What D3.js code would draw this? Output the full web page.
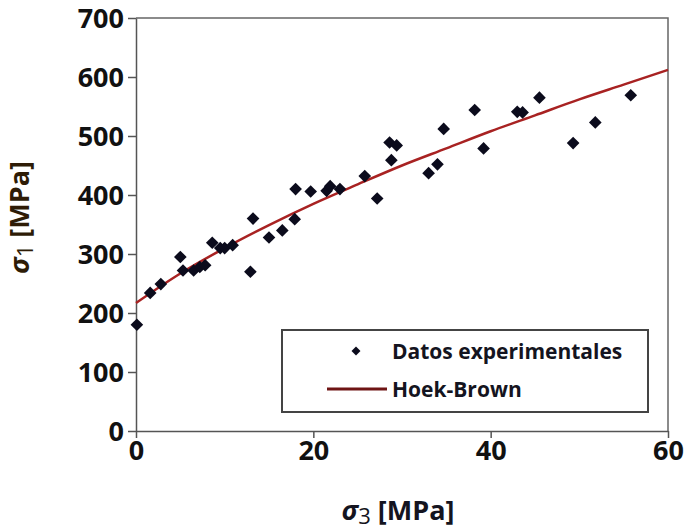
<!DOCTYPE html>
<html>
<head>
<meta charset="utf-8">
<script src="https://cdn.jsdelivr.net/npm/d3@7"></script>
<style>
    body { margin: 0; background: #fff; }
    text { font-family: "Open Sans", Lato, sans-serif; font-weight: bold; }
</style>
</head>
<body>
<div id="chart"></div>
<script>
// experimental points (sigma3, sigma1) in MPa
var sigma3 = [0.1, 1.6, 2.8, 5.0, 5.3, 6.5, 7.2, 7.8, 8.6, 9.5, 10.0, 10.9, 12.9,
    13.2, 15.0, 16.5, 17.9, 18.0, 19.7, 21.5, 21.9, 23.0, 25.8, 27.2, 28.6, 29.4,
    28.8, 33.0, 34.0, 34.7, 38.2, 39.2, 43.0, 43.6, 45.5, 49.3, 51.8, 55.8];
var sigma1 = [180, 234, 249, 295, 272, 272, 278, 281, 319, 310, 310, 315, 270,
    360, 328, 340, 359, 410, 406, 407, 415, 410, 432, 394, 489, 484,
    459, 437, 452, 512, 544, 479, 541, 540, 565, 488, 523, 569];

// Hoek-Brown envelope
var hbSigma3 = [0, 5, 10, 15, 20, 25, 30, 35, 40, 45, 50, 55, 60];
var hbSigma1 = [217, 267, 310, 349, 385, 418, 450, 479, 508, 535, 562, 587, 612];

var xTicks = [0, 20, 40, 60];
var yTicks = [0, 100, 200, 300, 400, 500, 600, 700];

var seriesNames = ["Datos experimentales", "Hoek-Brown"];

var vis = {};
vis.margin = {top: 18, left: 136, right: 19, bottom: 100};
vis.width = 687 - vis.margin.left - vis.margin.right;
vis.height = 531 - vis.margin.top - vis.margin.bottom;

vis.svg = d3.select("#chart").append("svg")
    .attr("width", 687)
    .attr("height", 531)
    .append("g")
    .attr("transform", "translate(" + vis.margin.left + "," + vis.margin.top + ")");

vis.x = d3.scaleLinear().domain([0, 60]).range([0, vis.width]);
vis.y = d3.scaleLinear().domain([0, 700]).range([vis.height, 0]);

// frame (top and right)
vis.svg.append("path")
    .attr("d", "M0,0H" + vis.width + "V" + vis.height)
    .attr("fill", "none")
    .attr("stroke", "#666")
    .attr("stroke-width", 1.5);

vis.xAxis = d3.axisBottom(vis.x).tickValues(xTicks).tickSize(7).tickPadding(3).tickSizeOuter(0);
vis.yAxis = d3.axisLeft(vis.y).tickValues(yTicks).tickSize(8).tickPadding(4).tickSizeOuter(0);

vis.svg.append("g")
    .attr("class", "x axis")
    .attr("transform", "translate(0," + vis.height + ")")
    .call(vis.xAxis);

vis.svg.append("g")
    .attr("class", "y axis")
    .call(vis.yAxis);

vis.svg.selectAll(".axis path, .axis line")
    .attr("stroke", "#555")
    .attr("stroke-width", 1.5);
vis.svg.selectAll(".axis text")
    .attr("fill", "#111")
    .style("font-size", "27px");
vis.svg.selectAll(".y.axis text").attr("dy", ".36em");

// Hoek-Brown curve
vis.line = d3.line()
    .x(function(d) { return vis.x(d[0]); })
    .y(function(d) { return vis.y(d[1]); })
    .curve(d3.curveMonotoneX);

vis.svg.append("path")
    .datum(d3.zip(hbSigma3, hbSigma1))
    .attr("d", vis.line)
    .attr("fill", "none")
    .attr("stroke", "#a82222")
    .attr("stroke-width", 2.5);

// diamonds
vis.diamond = d3.symbol().type(d3.symbolSquare).size(80);

vis.svg.selectAll(".pt")
    .data(d3.zip(sigma3, sigma1))
    .enter().append("path")
    .attr("class", "pt")
    .attr("d", vis.diamond)
    .attr("transform", function(d) { return "translate(" + vis.x(d[0]) + "," + vis.y(d[1]) + ") rotate(45)"; })
    .attr("fill", "#0b0b1c");

// axis titles
vis.svg.append("text")
    .attr("x", vis.width / 2 - 4)
    .attr("y", vis.height + 89)
    .attr("text-anchor", "middle")
    .attr("fill", "#141420")
    .style("font-size", "27px")
    .html("<tspan font-style='italic'>σ</tspan><tspan dy='4' font-size='22px' font-weight='normal'>3</tspan><tspan dy='-4'> [MPa]</tspan>");

vis.svg.append("text")
    .attr("transform", "translate(-107," + (vis.height / 2 - 7) + ") rotate(-90)")
    .attr("text-anchor", "middle")
    .attr("fill", "#2e1c06")
    .style("font-size", "27px")
    .html("<tspan font-style='italic'>σ</tspan><tspan dy='4' font-size='22px' font-weight='normal'>1</tspan><tspan dy='-4'> [MPa]</tspan>");

// legend
vis.legend = vis.svg.append("g")
    .attr("transform", "translate(" + (vis.width - 386) + "," + (vis.height - 101) + ")");

vis.legend.append("rect")
    .attr("width", 366)
    .attr("height", 82)
    .attr("fill", "#fff")
    .attr("stroke", "#444")
    .attr("stroke-width", 2);

vis.legendItem = vis.legend.selectAll(".legend")
    .data(seriesNames)
    .enter().append("g")
    .attr("class", "legend")
    .attr("transform", function(d, i) { return "translate(0," + (21 + i * 38) + ")"; });

vis.legendItem.filter(function(d, i) { return i === 0; })
    .append("path")
    .attr("d", d3.symbol().type(d3.symbolSquare).size(40))
    .attr("transform", "translate(74,0) rotate(45)")
    .attr("fill", "#0b0b1c");

vis.legendItem.filter(function(d, i) { return i === 1; })
    .append("line")
    .attr("x1", 45)
    .attr("x2", 105)
    .attr("stroke", "#6e1414")
    .attr("stroke-width", 3);

vis.legendItem.append("text")
    .attr("x", 110)
    .attr("dy", ".36em")
    .attr("fill", "#141420")
    .style("font-size", "21px")
    .text(function(d) { return d; });
</script>
</body>
</html>
